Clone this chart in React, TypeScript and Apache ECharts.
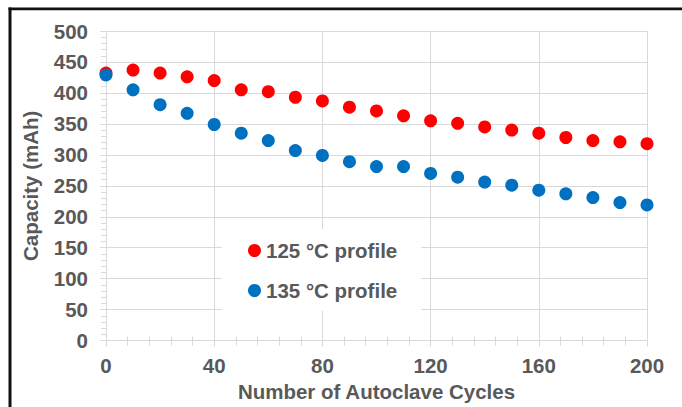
import React, { useEffect, useRef } from "react";
import * as echarts from "echarts";

const cycles = [0, 10, 20, 30, 40, 50, 60, 70, 80, 90, 100, 110, 120, 130, 140, 150, 160, 170, 180, 190, 200];
const profile125 = [432, 437, 432, 426, 420, 405, 402, 393, 387, 377, 371, 363, 355, 351, 345, 340, 335, 328, 323, 321, 318];
const profile135 = [429, 405, 381, 367, 349, 335, 323, 307, 299, 289, 281, 281, 270, 264, 256, 251, 243, 237, 231, 223, 219];
const seriesNames = ["125 °C profile", "135 °C profile"];
const xTitle = "Number of Autoclave Cycles";
const yTitle = "Capacity (mAh)";

const FONT = "'Liberation Sans', Arial, sans-serif";
const TEXT = "#595959";
const GRID = "#D9D9D9";

export default function App() {
  const ref = useRef<HTMLDivElement>(null);
  useEffect(() => {
    document.body.style.margin = "0";
    const chart = echarts.init(ref.current!, null, { renderer: "svg" });
    const labelStyle = { color: TEXT, fontFamily: FONT, fontSize: 20.5, fontWeight: "bold" as const, lineHeight: 20 };
    chart.setOption({
      animation: false,
      backgroundColor: "#fff",
      grid: { left: 106, right: 35, top: 31, bottom: 61, containLabel: false },
      legend: {
        orient: "vertical",
        left: 222,
        top: 229,
        padding: [11, 24, 10, 26],
        itemGap: 19,
        itemWidth: 13,
        itemHeight: 13,
        backgroundColor: "#fff",
        icon: "circle",
        textStyle: { ...labelStyle },
        data: seriesNames,
      },
      xAxis: [
        {
          type: "value",
          min: 0,
          max: 200,
          interval: 40,
          name: xTitle,
          nameLocation: "middle",
          nameGap: 36,
          nameTextStyle: { ...labelStyle },
          axisLine: { show: true, lineStyle: { color: GRID, width: 1 } },
          axisTick: { show: true, length: 6, lineStyle: { color: GRID } },
          minorTick: { show: true, splitNumber: 5, length: 5, lineStyle: { color: GRID } },
          splitLine: { show: true, lineStyle: { color: GRID, width: 1 } },
          axisLabel: { ...labelStyle, margin: 15 },
        },
        {
          type: "value",
          min: 0,
          max: 200,
          interval: 40,
          position: "bottom",
          axisLine: { show: false },
          axisTick: { show: false, inside: true },
          minorTick: { show: true, splitNumber: 5, length: 4, lineStyle: { color: GRID } },
          splitLine: { show: false },
          axisLabel: { show: false },
        },
      ],
      yAxis: {
        type: "value",
        min: 0,
        max: 500,
        interval: 50,
        name: yTitle,
        nameLocation: "middle",
        nameGap: 66,
        nameTextStyle: { ...labelStyle },
        axisLine: { show: true, lineStyle: { color: GRID, width: 1 } },
        axisTick: { show: true, length: 6, lineStyle: { color: GRID } },
        minorTick: { show: true, splitNumber: 5, length: 5, lineStyle: { color: GRID } },
        splitLine: { show: true, lineStyle: { color: GRID, width: 1 } },
        axisLabel: { ...labelStyle, margin: 18 },
      },
      graphic: [
        { type: "rect", left: 8.5, top: 7.5, shape: { width: 3, height: 400 }, style: { fill: "#111" }, z: 100 },
        { type: "rect", left: 8.5, top: 7.5, shape: { width: 674, height: 2.8 }, style: { fill: "#111" }, z: 100 },
      ],
      series: [
        {
          name: seriesNames[0],
          type: "scatter",
          xAxisIndex: 0,
          symbol: "circle",
          symbolSize: 13,
          itemStyle: { color: "#FF0000", opacity: 1 },
          data: cycles.map((c, i) => [c, profile125[i]]),
        },
        {
          name: seriesNames[1],
          type: "scatter",
          xAxisIndex: 0,
          symbol: "circle",
          symbolSize: 13,
          itemStyle: { color: "#0070C0", opacity: 1 },
          data: cycles.map((c, i) => [c, profile135[i]]),
        },
      ],
    });
    return () => chart.dispose();
  }, []);
  return <div ref={ref} style={{ width: 682, height: 407 }} />;
}
